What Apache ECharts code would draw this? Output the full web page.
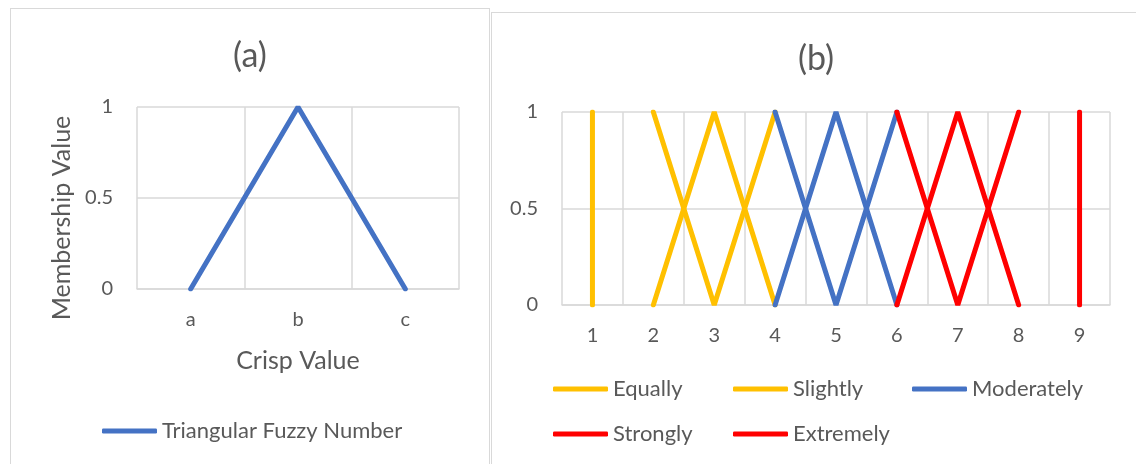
<!DOCTYPE html>
<html>
<head>
<meta charset="utf-8">
<script src="https://cdn.jsdelivr.net/npm/echarts@6/dist/echarts.min.js"></script>
<style>
  html, body { margin: 0; padding: 0; background: #fff; overflow: hidden; }
  body { width: 1136px; height: 464px; position: relative; }
  .panel { position: absolute; border: 1px solid #d9d9d9; box-sizing: content-box; }
  #chartA { left: 10px; top: 8px; width: 478px; height: 480px; }
  #chartB { left: 491px; top: 12px; width: 648px; height: 480px; }
</style>
</head>
<body>
<div id="chartA" class="panel"></div>
<div id="chartB" class="panel"></div>
<script>
// (a) 三角模糊数
const crispLabels = ['a', 'b', 'c']
const membership = [0, 1, 0]

// (b) 标度 1-9
const scaleLabels = ['1', '2', '3', '4', '5', '6', '7', '8', '9']
// 每条折线是 [x 类目, 隶属度] 的点
const equallyLine = [['1', 0], ['1', 1]]
const slightlyUp = [['2', 0], ['3', 1], ['4', 0]]
const slightlyDown = [['2', 1], ['3', 0], ['4', 1]]
const moderatelyUp = [['4', 0], ['5', 1], ['6', 0]]
const moderatelyDown = [['4', 1], ['5', 0], ['6', 1]]
const stronglyUp = [['6', 0], ['7', 1], ['8', 0]]
const stronglyDown = [['6', 1], ['7', 0], ['8', 1]]
const extremelyLine = [['9', 0], ['9', 1]]

const FONT = 'Lato'
const TEXT = '#595959'
const GRID = '#d9d9d9'
const BLUE = '#4472c4'
const YELLOW = '#ffc000'
const RED = '#ff0000'

const yAxisCommon = {
  type: 'value',
  min: 0,
  max: 1,
  interval: 0.5,
  axisLine: { show: false },
  axisTick: { show: false },
  axisLabel: { color: TEXT, fontFamily: FONT, fontSize: 20, margin: 24 },
  splitLine: { lineStyle: { color: GRID, width: 1.5 } }
}

const legendItem = (left, top, name) => ({
  left,
  top,
  padding: 0,
  icon: 'roundRect',
  itemWidth: 55,
  itemHeight: 5,
  textStyle: { color: TEXT, fontFamily: FONT, fontSize: 22 },
  data: [name]
})

const chartA = echarts.init(document.getElementById('chartA'))
chartA.setOption({
  animation: false,
  title: {
    text: '(a)',
    left: 'center',
    top: 25,
    textStyle: { color: TEXT, fontFamily: FONT, fontSize: 34, fontWeight: 'normal' }
  },
  grid: { left: 126, top: 98, width: 322, height: 182 },
  xAxis: {
    type: 'category',
    data: crispLabels,
    name: 'Crisp Value',
    nameLocation: 'middle',
    nameGap: 59,
    nameTextStyle: { color: TEXT, fontFamily: FONT, fontSize: 25 },
    axisLine: { lineStyle: { color: GRID, width: 1.5 } },
    axisTick: { show: false },
    axisLabel: { color: TEXT, fontFamily: FONT, fontSize: 20, margin: 21 },
    splitLine: { show: true, interval: 0, lineStyle: { color: GRID, width: 1.5 } }
  },
  yAxis: Object.assign({}, yAxisCommon, {
    name: 'Membership Value',
    nameLocation: 'middle',
    nameGap: 62,
    // 名称整体往下移一点，和原图一致
    nameTextStyle: { color: TEXT, fontFamily: FONT, fontSize: 25, padding: [0, 40, 0, 0] }
  }),
  legend: legendItem(91, 411, 'Triangular Fuzzy Number'),
  series: [{
    name: 'Triangular Fuzzy Number',
    type: 'line',
    data: membership,
    showSymbol: false,
    lineStyle: { color: BLUE, width: 5, cap: 'round' },
    itemStyle: { color: BLUE }
  }]
})

const lineSeries = (name, color, data) => ({
  name,
  type: 'line',
  data,
  showSymbol: false,
  lineStyle: { color, width: 5, cap: 'round' },
  itemStyle: { color }
})

const chartB = echarts.init(document.getElementById('chartB'))
chartB.setOption({
  animation: false,
  title: {
    text: '(b)',
    left: 'center',
    top: 24,
    textStyle: { color: TEXT, fontFamily: FONT, fontSize: 34, fontWeight: 'normal' }
  },
  grid: { left: 70, top: 99, width: 548, height: 193 },
  xAxis: {
    type: 'category',
    data: scaleLabels,
    axisLine: { lineStyle: { color: GRID, width: 1.5 } },
    axisTick: { show: false },
    axisLabel: { color: TEXT, fontFamily: FONT, fontSize: 20, margin: 21 },
    splitLine: { show: true, interval: 0, lineStyle: { color: GRID, width: 1.5 } }
  },
  yAxis: yAxisCommon,
  legend: [
    legendItem(61, 365, 'Equally'),
    legendItem(241, 365, 'Slightly'),
    legendItem(420, 365, 'Moderately'),
    legendItem(61, 410, 'Strongly'),
    legendItem(241, 410, 'Extremely')
  ],
  series: [
    lineSeries('Equally', YELLOW, equallyLine),
    lineSeries('Slightly', YELLOW, slightlyUp),
    lineSeries('Slightly', YELLOW, slightlyDown),
    lineSeries('Moderately', BLUE, moderatelyUp),
    lineSeries('Moderately', BLUE, moderatelyDown),
    lineSeries('Strongly', RED, stronglyUp),
    lineSeries('Strongly', RED, stronglyDown),
    lineSeries('Extremely', RED, extremelyLine)
  ]
})
</script>
</body>
</html>
